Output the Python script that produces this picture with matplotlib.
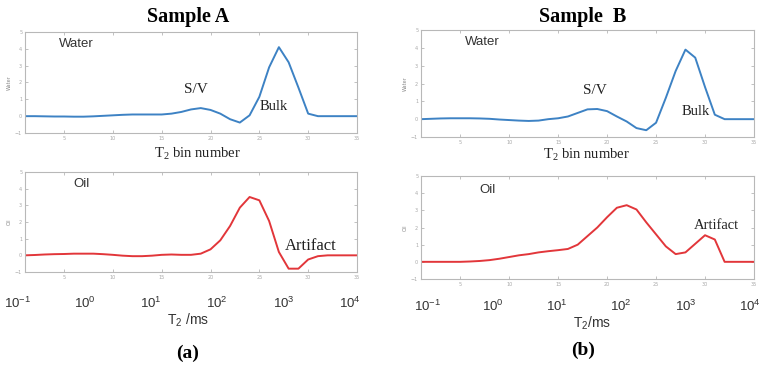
import matplotlib
matplotlib.use("Agg")
import matplotlib.pyplot as plt

plt.rcParams['mathtext.default'] = 'regular'

# ------------------ Data ------------------
bins = list(range(1, 36))  # T2 bin number

water_a = [0, 0, -0.01, -0.02, -0.02, -0.03, -0.03, -0.01, 0.02, 0.05, 0.08, 0.1, 0.1, 0.1, 0.1,
           0.15, 0.25, 0.4, 0.48, 0.37, 0.15, -0.18, -0.38, 0.05, 1.15, 2.9, 4.1, 3.2, 1.7, 0.15,
           0, 0, 0, 0, 0]
water_b = [0, 0.02, 0.04, 0.05, 0.05, 0.05, 0.04, 0.02, -0.02, -0.05, -0.08, -0.1, -0.08, 0,
           0.05, 0.15, 0.35, 0.55, 0.57, 0.45, 0.15, -0.13, -0.5, -0.62, -0.2, 1.2, 2.7, 3.9, 3.45,
           1.8, 0.25, 0, 0, 0, 0]
oil_a = [0, 0.02, 0.05, 0.07, 0.08, 0.1, 0.1, 0.1, 0.07, 0.03, -0.02, -0.05, -0.05, -0.02, 0.03,
         0.05, 0.03, 0.03, 0.1, 0.36, 0.9, 1.76, 2.86, 3.5, 3.3, 2.06, 0.2, -0.8, -0.8, -0.25,
         -0.05, 0, 0, 0, 0]
oil_b = [0, 0, 0, 0, 0, 0.02, 0.05, 0.1, 0.18, 0.28, 0.38, 0.45, 0.55, 0.62, 0.68, 0.75, 1.0,
         1.5, 2.0, 2.6, 3.15, 3.3, 3.05, 2.3, 1.6, 0.9, 0.45, 0.55, 1.05, 1.55, 1.3, 0, 0, 0, 0]

log_ticks = [0.1, 1, 10, 100, 1000, 10000]
log_labels = ['10$^{-1}$', '10$^0$', '10$^1$', '10$^2$', '10$^3$', '10$^4$']

blue = '#3d82c4'
red = '#e2363a'
grey = '#a8a8a8'

fig = plt.figure(figsize=(7.65, 3.65), dpi=100)


def panel(rect, y, color, ylab):
    ax = fig.add_axes(rect)
    ax.plot(bins, y, color=color, lw=1.4)
    ax.set_xlim(1, 35)
    ax.set_ylim(-1, 5)
    ax.set_xticks([5, 10, 15, 20, 25, 30, 35])
    ax.set_yticks([-1, 0, 1, 2, 3, 4, 5])
    ax.tick_params(direction='in', length=2, width=0.5, labelsize=3.5, colors=grey,
                   top=True, right=True, pad=2)
    for s in ax.spines.values():
        s.set_color('#b8b8b8')
        s.set_linewidth(0.8)
    ax.set_ylabel(ylab, fontsize=3.5, color='#888888', labelpad=2)
    return ax


def log_axis(x0, x1, yc):
    # row of T2 (ms) labels under the oil panel
    ax = fig.add_axes([x0 / 765, 1 - yc / 365, (x1 - x0) / 765, 0.001])
    ax.set_xscale('log')
    ax.set_xlim(log_ticks[0], log_ticks[-1])
    ax.set_xticks(log_ticks)
    ax.set_xticklabels(log_labels)
    ax.minorticks_off()
    ax.set_yticks([])
    for s in ax.spines.values():
        s.set_visible(False)
    ax.tick_params(length=0, pad=0, labelsize=9.5, labelcolor='#333333')
    for t in ax.get_xticklabels():
        t.set_family('Liberation Sans')
    ax.patch.set_alpha(0)
    return ax


serif = 'Liberation Serif'
sans = 'Liberation Sans'

# -------- Sample A --------
ax1 = panel([25 / 765, 1 - 133 / 365, 332 / 765, 101 / 365], water_a, blue, 'Water')
ax1.text(4.5, 4.3, 'Water', fontsize=9.5, family=sans, color='#333333', va='center')
ax1.text(18.5, 1.6, 'S/V', fontsize=11, family=serif, color='#222222', va='center', ha='center')
ax1.text(26.5, 0.55, 'Bulk', fontsize=10.5, family=serif, color='#222222', va='center', ha='center')

ax2 = panel([25 / 765, 1 - 272 / 365, 332 / 765, 100 / 365], oil_a, red, 'Oil')
ax2.text(6.0, 4.3, 'Oil', fontsize=9.5, family=sans, color='#333333', va='center')
ax2.text(30.3, 0.55, 'Artifact', fontsize=12, family=serif, color='#222222', va='center', ha='center')

fig.text(188 / 765, 1 - 17 / 365, 'Sample A', fontsize=14.5, family=serif, weight='bold',
         ha='center', va='center')
fig.text(198 / 765, 1 - 154 / 365, 'T$_2$ bin number', fontsize=10.5, family=serif,
         ha='center', va='center', color='#222222')
log_axis(18, 350, 296)
fig.text(188 / 765, 1 - 320 / 365, 'T$_2$ /ms', fontsize=10, family=sans,
         ha='center', va='center', color='#333333')
fig.text(188 / 765, 1 - 353 / 365, '(a)', fontsize=14, family=serif, weight='bold',
         ha='center', va='center')

# -------- Sample B --------
ax3 = panel([421 / 765, 1 - 137 / 365, 333 / 765, 107 / 365], water_b, blue, 'Water')
ax3.text(5.5, 4.3, 'Water', fontsize=9.5, family=sans, color='#333333', va='center')
ax3.text(18.8, 1.6, 'S/V', fontsize=11, family=serif, color='#222222', va='center', ha='center')
ax3.text(29.0, 0.45, 'Bulk', fontsize=10.5, family=serif, color='#222222', va='center', ha='center')

ax4 = panel([421 / 765, 1 - 279 / 365, 333 / 765, 103 / 365], oil_b, red, 'Oil')
ax4.text(7.0, 4.2, 'Oil', fontsize=9.5, family=sans, color='#333333', va='center')
ax4.text(31.2, 2.1, 'Artifact', fontsize=10.5, family=serif, color='#222222', va='center', ha='center')

fig.text(583 / 765, 1 - 17 / 365, 'Sample  B', fontsize=14.5, family=serif, weight='bold',
         ha='center', va='center')
fig.text(587 / 765, 1 - 155 / 365, 'T$_2$ bin number', fontsize=10.5, family=serif,
         ha='center', va='center', color='#222222')
log_axis(428, 750, 299)
fig.text(592 / 765, 1 - 323 / 365, 'T$_2$/ms', fontsize=10, family=sans,
         ha='center', va='center', color='#333333')
fig.text(583 / 765, 1 - 350 / 365, '(b)', fontsize=14, family=serif, weight='bold',
         ha='center', va='center')

fig.savefig('out.png', dpi=100)
